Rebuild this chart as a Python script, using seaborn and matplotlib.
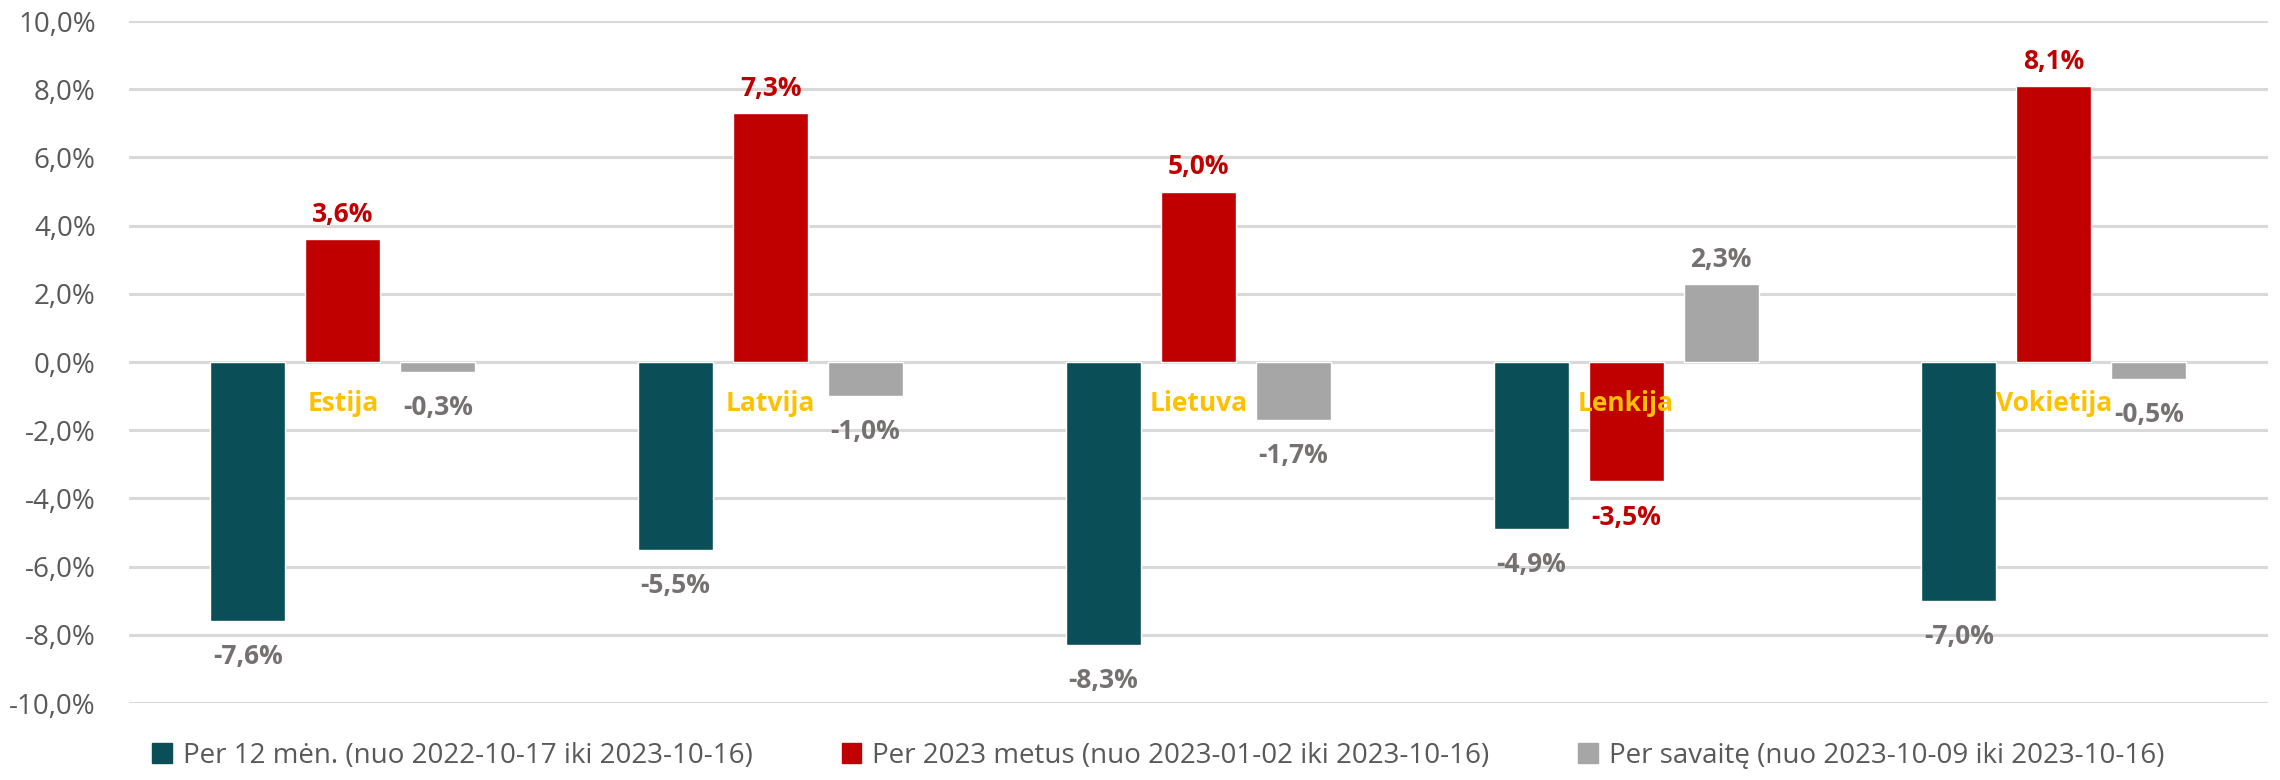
import pandas as pd
import matplotlib.pyplot as plt
import seaborn as sns
from matplotlib.ticker import FuncFormatter, MultipleLocator

# Duomenys
salys = ["Estija", "Latvija", "Lietuva", "Lenkija", "Vokietija"]
serijos = [
    "Per 12 mėn. (nuo 2022-10-17 iki 2023-10-16)",
    "Per 2023 metus (nuo 2023-01-02 iki 2023-10-16)",
    "Per savaitę (nuo 2023-10-09 iki 2023-10-16)",
]
per_12_men = [-7.6, -5.5, -8.3, -4.9, -7.0]
per_2023 = [3.6, 7.3, 5.0, -3.5, 8.1]
per_savaite = [-0.3, -1.0, -1.7, 2.3, -0.5]

spalvos = ["#0A4F57", "#C00000", "#A6A6A6"]
etik_spalvos = ["#767171", "#C00000", "#767171"]

df = pd.DataFrame({
    "salis": salys * 3,
    "serija": [serijos[0]] * 5 + [serijos[1]] * 5 + [serijos[2]] * 5,
    "reiksme": per_12_men + per_2023 + per_savaite,
})


def proc(v):
    return f"{v:.1f}%".replace(".", ",")


sns.set_theme(style="white")
plt.rcParams["font.family"] = ["Open Sans", "DejaVu Sans"]

fig = plt.figure(figsize=(22.8, 7.8), dpi=100)
ax = fig.add_axes([0.0566, 0.0987, 0.938, 0.8743])

sns.barplot(data=df, x="salis", y="reiksme", hue="serija", hue_order=serijos,
            palette=spalvos, width=0.666, gap=0.21, saturation=1, ax=ax, legend=False)

ax.set_ylim(-10, 10)
ax.set_xlim(-0.5, 4.5)
ax.yaxis.set_major_locator(MultipleLocator(2))
ax.yaxis.set_major_formatter(FuncFormatter(lambda v, p: proc(v)))
ax.grid(axis="y", color="#D9D9D9", linewidth=2.2)
ax.set_axisbelow(True)
for s in ax.spines.values():
    s.set_visible(False)
ax.set_xlabel("")
ax.set_ylabel("")
ax.set_xticks([])
ax.tick_params(axis="y", labelsize=20, colors="#595959", length=0, pad=24)

# Reikšmių etiketės: teigiamos virš stulpelio, neigiamos žemiau
for cont, spalva in zip(ax.containers, etik_spalvos):
    teig = [proc(b.get_height()) if b.get_height() >= 0 else "" for b in cont]
    neig = [proc(b.get_height()) if b.get_height() < 0 else "" for b in cont]
    ax.bar_label(cont, labels=teig, padding=8, color=spalva, fontsize=19, fontweight="bold")
    ax.bar_label(cont, labels=neig, padding=16, color=spalva, fontsize=19, fontweight="bold")

# Šalių pavadinimai prie nulinės ašies
for i, s in enumerate(salys):
    ax.annotate(s, xy=(i, 0), xytext=(0, -30), textcoords="offset points",
                ha="center", va="center", color="#FFC000", fontsize=19, fontweight="bold")

# Legenda
rankenos = [plt.Rectangle((0, 0), 1, 1, color=c) for c in spalvos]
fig.legend(rankenos, serijos, loc="center", bbox_to_anchor=(0.508, 0.031), ncol=3,
           frameon=False, fontsize=20, labelcolor="#595959", handlelength=0.7,
           handleheight=0.7, handletextpad=0.4, columnspacing=3.2)

plt.savefig("out.png", dpi=100)
